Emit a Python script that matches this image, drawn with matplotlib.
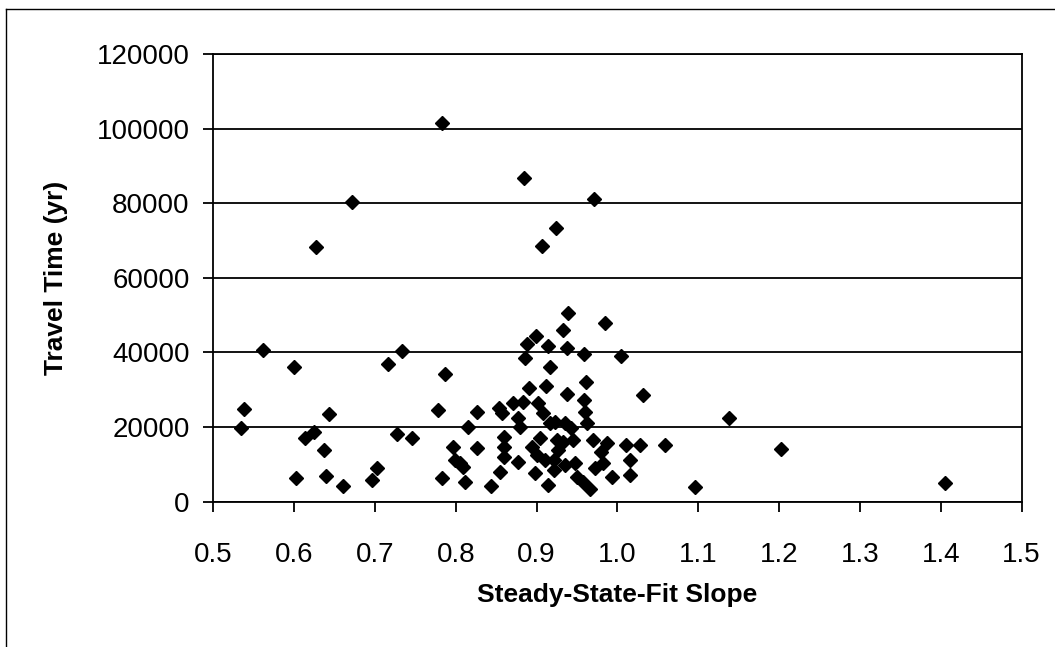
"""
travel time vs steady-state-fit slope scatter
"""
import matplotlib
matplotlib.use("Agg")
import matplotlib.pyplot as plt
from matplotlib.lines import Line2D
from matplotlib.ticker import FormatStrFormatter

# --------------------------------------------------------------------------- #
#  data
# --------------------------------------------------------------------------- #
slope = [
    0.783, 0.884, 0.971, 0.672, 0.924, 0.906, 0.627, 0.939, 0.984, 0.932,
    0.899, 0.888, 0.914, 0.937, 0.958, 0.561, 0.734, 1.004, 0.885, 0.600,
    0.716, 0.916, 0.787, 0.961, 0.890, 0.912, 0.937, 1.031, 0.958, 0.960,
    0.962, 0.538, 0.778, 0.826, 0.643, 1.138, 0.853, 0.857, 0.871, 0.883,
    0.877, 0.879, 0.902, 0.908, 0.917, 0.534, 0.815, 0.613, 0.624, 0.727,
    0.746, 0.637, 0.826, 0.796, 0.859, 0.859, 0.859, 0.877, 0.799, 0.805,
    0.809, 0.602, 0.640, 0.660, 0.696, 0.702, 0.783, 0.811, 0.844, 0.855,
    0.904, 0.894, 0.900, 0.910, 0.898, 0.914, 0.925, 0.921, 0.923, 0.935,
    0.943, 0.933, 0.927, 0.945, 0.921, 0.935, 0.947, 0.970, 0.987, 0.980,
    0.972, 0.982, 0.993, 1.011, 1.028, 1.015, 1.015, 0.950, 0.957, 0.966,
    1.059, 1.202, 1.096, 1.405,
]
travel_time = [
    101400, 86850, 81040, 80400, 73450, 68530, 68350, 50660, 47980, 46000,
    44400, 42260, 41730, 41100, 39500, 40650, 40390, 39050, 38420, 36190,
    36810, 36190, 34130, 32170, 30380, 31000, 28860, 28590, 27250, 24120,
    21010, 24750, 24570, 24120, 23410, 22520, 25030, 23690, 26370, 26800,
    22350, 20100, 26370, 23690, 21010, 19840, 20100, 16980, 18760, 18050,
    17150, 13850, 14310, 14560, 17420, 14740, 12060, 10720, 11170, 10280,
    9380, 6250, 6970, 4290, 5810, 9110, 6250, 5180, 4210, 8040,
    17000, 14740, 12520, 11180, 7610, 4480, 16540, 8500, 21440, 21010,
    19670, 16080, 13860, 16540, 11180, 9840, 10290, 16540, 15650, 13400,
    8950, 10290, 6700, 15200, 15190, 11180, 7160, 6700, 5200, 3300,
    15190, 14120, 3840, 4910,
]

x_ticks = [0.5, 0.6, 0.7, 0.8, 0.9, 1.0, 1.1, 1.2, 1.3, 1.4, 1.5]
y_ticks = [0, 20000, 40000, 60000, 80000, 100000, 120000]

# --------------------------------------------------------------------------- #
#  figure
# --------------------------------------------------------------------------- #
plt.rcParams['font.family'] = ['Liberation Sans', 'DejaVu Sans']

fig = plt.figure(figsize=(10.55, 6.47), dpi=100)
ax = fig.add_axes([0.2022, 0.2246, 0.7662, 0.6919])

ax.set_xlim(0.5, 1.5)
ax.set_ylim(0, 120000)
ax.set_xticks(x_ticks)
ax.set_yticks(y_ticks)
ax.xaxis.set_major_formatter(FormatStrFormatter('%.1f'))

# horizontal gridlines like the Excel original
ax.grid(axis='y', color='black', linewidth=1.3)
ax.set_axisbelow(True)

ax.plot(slope, travel_time, linestyle='none', marker='D',
        markersize=7.5, color='black', zorder=3)

for side in ax.spines.values():
    side.set_linewidth(1.3)
    side.set_color('black')

ax.tick_params(axis='x', direction='out', length=7, width=1.3,
               labelsize=20, pad=22)
ax.tick_params(axis='y', direction='out', length=7, width=1.3,
               labelsize=20, pad=10)

ax.set_xlabel('Steady-State-Fit Slope', fontsize=19, fontweight='bold',
              labelpad=11)
ax.set_ylabel('Travel Time (yr)', fontsize=19, fontweight='bold',
              labelpad=21)

# outer chart-area border (left and top edges visible in the scan)
fig.add_artist(Line2D([0.006, 0.006], [0.0, 0.986], transform=fig.transFigure,
                      color='black', linewidth=1.0))
fig.add_artist(Line2D([0.006, 1.0], [0.986, 0.986], transform=fig.transFigure,
                      color='black', linewidth=1.0))

fig.savefig('out.png', dpi=100)
